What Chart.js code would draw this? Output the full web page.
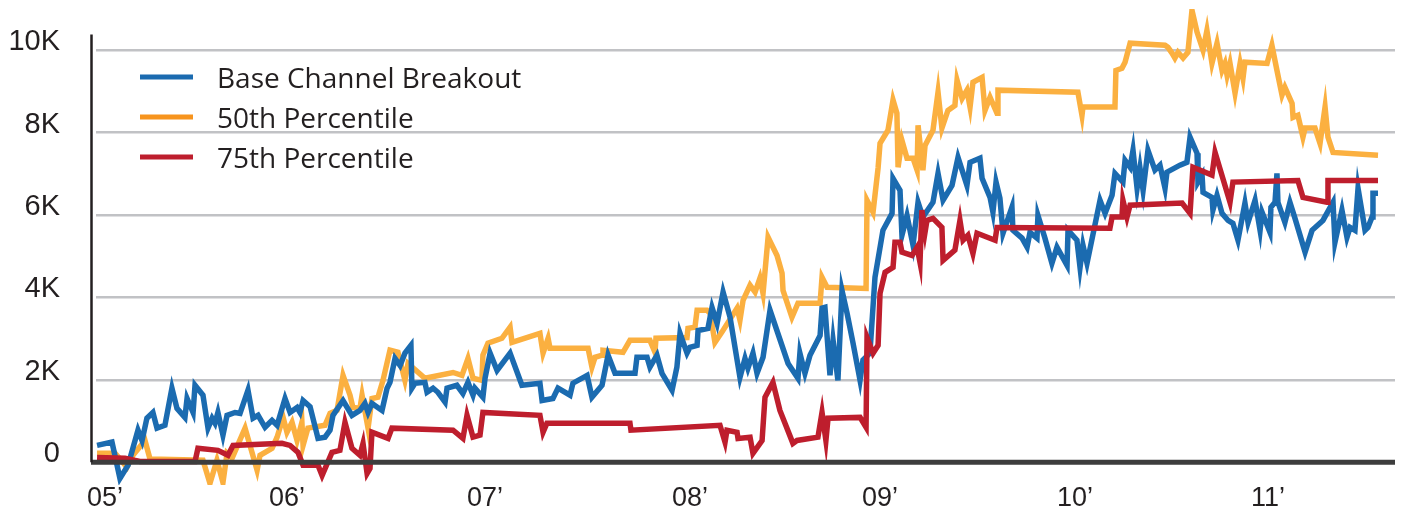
<!DOCTYPE html>
<html>
<head>
<meta charset="utf-8">
<title>Breakout chart</title>
<script src="https://cdn.jsdelivr.net/npm/chart.js@4.4.1/dist/chart.umd.min.js"></script>
<style>
  html, body { margin: 0; padding: 0; background: #ffffff; }
  #wrap { width: 1409px; height: 510px; position: relative; }
</style>
</head>
<body>
<div id="wrap"><canvas id="chartLines"></canvas></div>
<script>
// values in thousands, x in decimal years
const blueYears = [2004.959,2005.036,2005.077,2005.119,2005.170,2005.191,2005.216,2005.247,2005.268,2005.309,2005.345,2005.371,2005.412,2005.423,2005.454,2005.464,2005.505,2005.531,2005.552,2005.567,2005.582,2005.608,2005.629,2005.670,2005.696,2005.737,2005.763,2005.789,2005.825,2005.861,2005.887,2005.928,2005.954,2005.990,2006.005,2006.021,2006.057,2006.098,2006.134,2006.160,2006.175,2006.227,2006.273,2006.314,2006.340,2006.356,2006.376,2006.428,2006.454,2006.469,2006.495,2006.521,2006.546,2006.577,2006.582,2006.598,2006.649,2006.660,2006.691,2006.716,2006.753,2006.763,2006.814,2006.845,2006.871,2006.897,2006.907,2006.948,2006.959,2006.985,2007.021,2007.088,2007.149,2007.242,2007.253,2007.309,2007.335,2007.397,2007.412,2007.485,2007.510,2007.562,2007.593,2007.629,2007.732,2007.742,2007.794,2007.809,2007.845,2007.871,2007.923,2007.948,2007.964,2008.000,2008.015,2008.052,2008.057,2008.108,2008.129,2008.155,2008.186,2008.222,2008.273,2008.299,2008.314,2008.340,2008.361,2008.392,2008.428,2008.521,2008.572,2008.582,2008.608,2008.634,2008.686,2008.696,2008.711,2008.737,2008.753,2008.778,2008.799,2008.825,2008.856,2008.892,2008.907,2008.943,2008.969,2009.010,2009.057,2009.062,2009.098,2009.108,2009.134,2009.165,2009.191,2009.216,2009.268,2009.294,2009.320,2009.366,2009.397,2009.443,2009.459,2009.510,2009.521,2009.562,2009.577,2009.593,2009.613,2009.629,2009.675,2009.680,2009.727,2009.753,2009.768,2009.804,2009.809,2009.845,2009.881,2009.907,2009.959,2009.964,2010.010,2010.026,2010.041,2010.062,2010.129,2010.155,2010.191,2010.206,2010.247,2010.258,2010.284,2010.299,2010.320,2010.335,2010.351,2010.376,2010.412,2010.438,2010.464,2010.474,2010.541,2010.577,2010.593,2010.629,2010.634,2010.655,2010.660,2010.706,2010.711,2010.732,2010.758,2010.789,2010.814,2010.840,2010.876,2010.892,2010.928,2010.954,2010.964,2011.005,2011.010,2011.031,2011.041,2011.046,2011.082,2011.108,2011.134,2011.186,2011.222,2011.278,2011.330,2011.340,2011.376,2011.402,2011.418,2011.443,2011.459,2011.495,2011.510,2011.531,2011.536,2011.562];
const blueValues = [0.41,0.49,-0.39,-0.07,0.78,0.53,1.07,1.21,0.83,0.90,1.80,1.31,1.09,1.55,1.21,1.87,1.63,0.83,1.07,0.95,1.21,0.66,1.14,1.21,1.19,1.75,1.07,1.14,0.85,1.02,0.90,1.55,1.21,1.33,1.21,1.50,1.35,0.58,0.61,0.78,1.14,1.50,1.14,1.26,1.43,1.21,1.43,1.26,1.80,1.94,2.52,2.35,2.65,2.84,1.80,1.92,1.94,1.70,1.80,1.70,1.46,1.80,1.87,1.67,1.94,1.63,1.80,1.58,2.04,2.65,2.23,2.65,1.87,1.92,1.50,1.55,1.80,1.63,1.92,2.11,1.58,1.87,2.60,2.16,2.16,2.55,2.55,2.31,2.60,2.16,1.75,2.31,3.13,2.65,2.79,2.84,3.20,3.25,3.76,3.37,4.13,3.52,2.06,2.52,2.28,2.65,2.16,2.55,3.69,2.40,2.04,2.65,2.16,2.60,3.08,3.74,3.76,2.11,2.96,1.99,4.17,3.62,2.89,1.99,2.48,2.65,4.49,5.63,6.04,6.89,6.60,5.51,5.99,5.27,6.31,5.95,6.31,7.01,6.36,6.72,7.40,6.72,7.28,7.38,6.89,6.43,6.07,6.80,6.41,5.56,6.19,5.63,5.44,5.22,5.58,5.44,5.99,5.44,4.83,5.22,4.78,5.63,5.39,4.73,5.27,4.83,6.36,6.04,6.48,7.01,6.80,7.33,7.16,7.57,6.65,7.14,6.60,7.57,7.09,7.21,6.65,7.04,7.21,7.28,7.89,7.50,6.80,6.97,6.55,6.43,6.12,6.48,6.04,5.87,5.80,5.39,6.29,5.82,6.36,5.63,6.07,5.58,6.19,6.31,7.01,6.31,5.82,6.31,5.92,5.10,5.63,5.87,6.31,5.34,6.12,5.46,5.70,5.63,6.65,5.63,5.70,5.95,6.53,6.53];

const orangeYears = [2004.959,2005.052,2005.113,2005.144,2005.206,2005.232,2005.505,2005.541,2005.577,2005.608,2005.629,2005.655,2005.722,2005.784,2005.799,2005.861,2005.887,2005.918,2005.938,2005.964,2005.990,2006.015,2006.021,2006.046,2006.134,2006.160,2006.196,2006.227,2006.263,2006.278,2006.314,2006.325,2006.356,2006.376,2006.407,2006.433,2006.469,2006.510,2006.546,2006.562,2006.649,2006.794,2006.840,2006.871,2006.897,2006.943,2006.948,2006.974,2007.046,2007.088,2007.098,2007.242,2007.258,2007.284,2007.294,2007.490,2007.510,2007.526,2007.562,2007.567,2007.670,2007.706,2007.809,2007.835,2007.840,2008.000,2008.005,2008.041,2008.052,2008.103,2008.119,2008.144,2008.180,2008.258,2008.273,2008.289,2008.325,2008.351,2008.376,2008.392,2008.418,2008.464,2008.490,2008.495,2008.541,2008.572,2008.686,2008.696,2008.722,2008.923,2008.928,2008.959,2008.985,2008.995,2009.036,2009.062,2009.082,2009.088,2009.108,2009.134,2009.165,2009.186,2009.191,2009.216,2009.227,2009.268,2009.294,2009.314,2009.345,2009.381,2009.392,2009.418,2009.443,2009.459,2009.474,2009.521,2009.536,2009.562,2009.598,2009.603,2010.015,2010.036,2010.041,2010.206,2010.211,2010.242,2010.258,2010.284,2010.464,2010.479,2010.500,2010.515,2010.531,2010.557,2010.582,2010.603,2010.629,2010.660,2010.680,2010.706,2010.732,2010.758,2010.773,2010.784,2010.799,2010.825,2010.851,2010.866,2010.876,2010.990,2011.015,2011.041,2011.067,2011.082,2011.119,2011.124,2011.149,2011.175,2011.186,2011.237,2011.263,2011.289,2011.304,2011.330,2011.562];
const orangeValues = [0.22,0.22,-0.12,0.17,0.53,0.08,0.05,-0.51,0.05,-0.49,0.22,0.10,0.83,-0.19,0.17,0.34,0.61,1.09,0.73,0.97,0.53,0.97,0.41,0.83,0.90,1.19,1.26,2.11,1.63,1.33,1.31,1.63,0.83,1.55,1.58,1.99,2.72,2.67,1.99,2.40,2.04,2.18,2.11,2.52,2.04,1.99,2.60,2.89,3.01,3.28,2.91,3.13,2.65,3.01,2.77,2.77,2.31,2.55,2.60,2.72,2.67,2.96,2.96,2.67,3.01,3.03,3.25,3.28,3.69,3.69,3.62,2.91,3.16,3.74,3.45,3.93,4.30,4.13,4.47,4.10,5.46,5.02,4.59,4.17,3.52,3.86,3.86,4.49,4.25,4.22,6.36,6.07,7.14,7.74,8.06,8.79,8.47,7.16,7.81,7.38,7.38,7.09,8.18,7.09,7.69,8.06,8.98,8.11,8.54,8.66,9.27,8.83,9.03,8.62,9.22,9.34,8.54,8.86,8.47,9.03,8.98,8.42,8.62,8.62,9.51,9.56,9.71,10.17,10.12,10.07,9.93,9.81,9.95,9.81,9.95,10.97,10.44,10.00,10.48,9.68,10.17,9.51,9.68,9.39,9.68,8.96,9.68,9.32,9.71,9.68,10.12,9.51,8.91,9.10,8.71,8.37,8.42,7.89,8.11,8.11,7.74,8.62,7.89,7.52,7.45];

const redYears = [2004.959,2005.103,2005.180,2005.464,2005.479,2005.582,2005.634,2005.660,2005.912,2005.954,2005.995,2006.021,2006.098,2006.119,2006.170,2006.211,2006.237,2006.273,2006.314,2006.330,2006.351,2006.366,2006.376,2006.459,2006.479,2006.794,2006.845,2006.866,2006.897,2006.933,2006.948,2007.242,2007.258,2007.278,2007.706,2007.711,2008.170,2008.196,2008.206,2008.258,2008.263,2008.325,2008.340,2008.387,2008.402,2008.443,2008.479,2008.546,2008.567,2008.675,2008.696,2008.716,2008.727,2008.892,2008.923,2008.928,2008.959,2008.985,2008.995,2009.021,2009.062,2009.072,2009.098,2009.108,2009.160,2009.186,2009.201,2009.211,2009.227,2009.237,2009.268,2009.314,2009.320,2009.381,2009.407,2009.423,2009.448,2009.474,2009.495,2009.588,2009.598,2010.180,2010.191,2010.242,2010.247,2010.268,2010.284,2010.552,2010.593,2010.608,2010.706,2010.722,2010.799,2010.814,2011.149,2011.175,2011.299,2011.304,2011.562];
const redValues = [0.12,0.10,0.02,0.02,0.34,0.29,0.17,0.41,0.46,0.41,0.24,-0.07,-0.07,-0.32,0.24,0.29,0.97,0.34,0.17,0.46,-0.27,-0.15,0.73,0.58,0.83,0.78,0.58,1.14,0.61,0.66,1.21,1.14,0.73,0.95,0.95,0.78,0.90,0.49,0.78,0.73,0.58,0.61,0.22,0.53,1.58,1.94,1.26,0.46,0.53,0.61,1.21,0.53,1.07,1.09,0.85,3.03,2.65,2.84,4.10,4.61,4.73,5.34,5.34,5.10,5.02,5.22,4.85,6.12,5.58,5.87,5.92,5.70,4.90,5.15,5.87,5.39,5.51,5.07,5.56,5.39,5.70,5.68,5.95,5.95,6.36,5.95,6.24,6.29,6.04,7.16,6.97,7.52,6.31,6.80,6.84,6.43,6.31,6.84,6.84];

const seriesNames = ['Base Channel Breakout', '50th Percentile', '75th Percentile'];
const yTickValues = [0, 2, 4, 6, 8, 10];
const xTickPos = [2005.0, 2005.938, 2006.959, 2008.015, 2008.995, 2010.0, 2010.995];
const xTickLabels = ['05\u2019', '06\u2019', '07\u2019', '08\u2019', '09\u2019', '10\u2019', '11\u2019'];

const BLUE = '#1b6bb0';
const ORANGE = '#fbb040';
const RED = '#be1e2d';
const TEXT = '#231f20';

function pairs(xs, ys) {
    return xs.map((x, i) => ({ x: x, y: ys[i] }));
}

function lineSet(label, xs, ys, color, order) {
    return {
        label: label,
        data: pairs(xs, ys),
        borderColor: color,
        backgroundColor: color,
        borderWidth: 5.5,
        borderJoinStyle: 'miter',
        pointRadius: 0,
        tension: 0,
        fill: false,
        order: order
    };
}

// zero line + y axis drawn on top of the lines, legend in the top left
const axisAndLegend = {
    id: 'axisAndLegend',
    afterDatasetsDraw(chart) {
        const c = chart.ctx;
        const ys = chart.scales.y;
        const area = chart.chartArea;
        const y0 = ys.getPixelForValue(0);
        c.save();
        c.strokeStyle = '#3d3d3d';
        c.lineWidth = 5;
        c.beginPath();
        c.moveTo(91, y0);
        c.lineTo(area.right, y0);
        c.stroke();
        c.strokeStyle = TEXT;
        c.lineWidth = 2.5;
        c.beginPath();
        c.moveTo(91.5, ys.getPixelForValue(10.38));
        c.lineTo(91.5, y0);
        c.stroke();
        c.restore();
    },
    afterDraw(chart) {
        const c = chart.ctx;
        const swatch = [BLUE, '#f7941d', RED];
        c.save();
        c.font = '28px "Open Sans", sans-serif';
        c.textBaseline = 'middle';
        c.fillStyle = TEXT;
        seriesNames.forEach((name, i) => {
            const y = 77 + i * 40;
            c.strokeStyle = swatch[i];
            c.lineWidth = 5;
            c.beginPath();
            c.moveTo(140, y);
            c.lineTo(193, y);
            c.stroke();
            c.fillText(name, 217, y + 3);
        });
        c.restore();
    }
};

const ctx = document.getElementById('chartLines').getContext('2d');

const chartLines = new Chart(ctx, {
    type: 'line',
    data: {
        datasets: [
            lineSet(seriesNames[0], blueYears, blueValues, BLUE, 1),
            lineSet(seriesNames[1], orangeYears, orangeValues, ORANGE, 2),
            lineSet(seriesNames[2], redYears, redValues, RED, 0)
        ]
    },
    options: {
        responsive: true,
        maintainAspectRatio: false,
        animation: false,
        devicePixelRatio: 1,
        layout: { padding: { left: 0, right: 14, top: 9, bottom: 0 } },
        plugins: {
            legend: { display: false },
            tooltip: { enabled: false }
        },
        scales: {
            x: {
                type: 'linear',
                min: 2004.9536,
                max: 2011.6495,
                afterFit: s => { s.height = 25; s.paddingLeft = 0; s.paddingRight = 0; },
                afterBuildTicks: s => { s.ticks = xTickPos.map(v => ({ value: v })); },
                grid: { display: false, drawTicks: false },
                border: { display: false },
                ticks: {
                    autoSkip: false,
                    maxRotation: 0,
                    padding: -3,
                    color: TEXT,
                    font: { family: '"Liberation Sans", Arial, sans-serif', size: 27 },
                    callback: (v, i) => xTickLabels[i]
                }
            },
            y: {
                min: -0.55,
                max: 11.0,
                afterFit: s => { s.width = 96; s.paddingTop = 0; s.paddingBottom = 0; },
                afterBuildTicks: s => { s.ticks = yTickValues.map(v => ({ value: v })); },
                grid: {
                    drawTicks: false,
                    color: c => c.tick && c.tick.value === 0 ? 'rgba(0,0,0,0)' : '#c1c2c5',
                    lineWidth: 2.5
                },
                border: { display: false },
                ticks: {
                    padding: 36,
                    labelOffset: -8,
                    color: TEXT,
                    font: { family: '"Liberation Sans", Arial, sans-serif', size: 29 },
                    callback: v => v === 0 ? '0' : v + 'K'
                }
            }
        }
    },
    plugins: [axisAndLegend]
});
</script>
</body>
</html>
